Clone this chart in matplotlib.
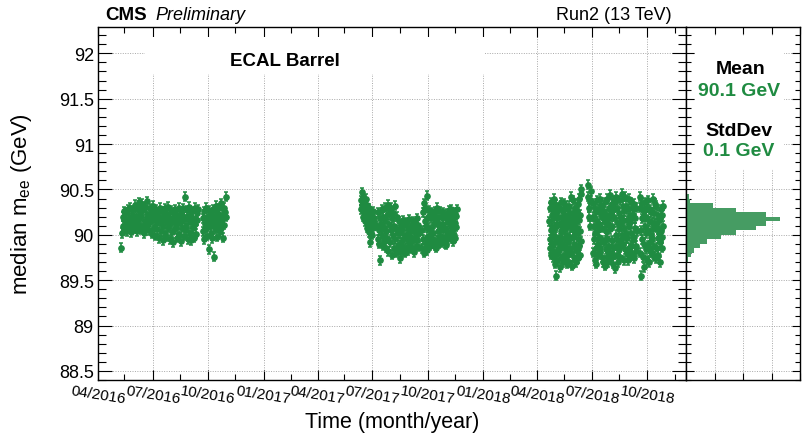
import numpy as np
import pandas as pd
import matplotlib
matplotlib.use('Agg')
import matplotlib.pyplot as plt
import matplotlib.dates as mdates
from matplotlib.ticker import MultipleLocator, FuncFormatter
from matplotlib.patches import Rectangle

plt.rcParams['font.family'] = ['Liberation Sans', 'DejaVu Sans']
plt.rcParams['mathtext.default'] = 'regular'

GREEN = '#1f8b41'
HIST_GREEN = '#469c63'

# median m_ee per run, grouped in blocks of data taking (first run, last run)
dates_2016a = ('2016-05-10', '2016-09-14')
vals_2016a = [89.86, 90.02, 90.20, 90.10, 90.26, 90.06, 90.16, 90.24, 90.04, 90.14,
              90.28, 90.08, 90.19, 90.30, 90.11, 90.03, 90.22, 90.16, 90.27, 90.07,
              90.13, 90.33, 90.09, 90.21, 90.04, 90.29, 90.17, 90.36, 90.12, 90.25,
              90.06, 90.20, 90.34, 90.10, 90.27, 90.02, 90.15, 90.31, 90.08, 90.23,
              90.37, 90.12, 90.19, 90.05, 90.29, 90.14, 90.26, 90.01, 90.18, 90.32,
              90.09, 90.22, 89.99, 90.16, 90.28, 90.06, 90.13, 90.24, 89.96, 90.19,
              90.30, 90.04, 90.15, 90.26, 89.94, 90.11, 90.21, 90.02, 90.29, 90.16,
              89.98, 90.23, 90.08, 90.31, 90.12, 89.95, 90.19, 90.27, 90.03, 90.14,
              90.25, 89.92, 90.17, 90.06, 90.28, 90.10, 89.97, 90.22, 90.13, 90.30,
              90.01, 90.18, 89.93, 90.24, 90.08, 90.15, 90.29, 89.99, 90.20, 90.42,
              90.11, 90.05, 90.27, 89.95, 90.17, 90.31, 90.02, 90.22, 89.94, 90.14,
              90.26, 90.07, 90.19, 89.97, 90.30, 90.12, 90.01, 90.24, 90.16, 90.28]
dates_2016b = ('2016-09-22', '2016-10-31')
vals_2016b = [90.18, 90.04, 90.26, 89.95, 90.12, 90.30, 90.08, 90.20, 89.99, 90.15,
              90.27, 89.84, 90.10, 90.23, 90.02, 90.17, 89.96, 90.28, 90.12, 89.76,
              90.20, 90.06, 90.32, 90.14, 89.98, 90.24, 90.09, 90.19, 90.29, 90.03,
              90.16, 90.35, 90.07, 90.22, 89.97, 90.18, 90.30, 90.11, 90.25, 90.42,
              90.20]

dates_2017a = ('2017-06-12', '2017-07-04')
vals_2017a = [90.38, 90.28, 90.47, 90.33, 90.20, 90.42, 90.25, 90.36, 90.15, 90.30,
              90.40, 90.18, 90.27, 90.08, 90.33, 90.22, 90.12, 90.29, 90.03, 90.19,
              89.92, 90.24, 90.10, 90.16, 90.00, 90.21, 90.07, 90.26, 90.13, 90.18]
dates_2017b = ('2017-07-09', '2017-09-17')
vals_2017b = [90.10, 89.95, 90.25, 90.05, 89.90, 90.18, 89.72, 90.12, 90.28, 90.00,
              89.88, 90.20, 90.08, 89.93, 90.15, 90.30, 89.86, 90.04, 90.22, 89.96,
              90.33, 89.82, 90.12, 90.26, 89.92, 90.05, 90.30, 89.78, 90.18, 90.00,
              90.24, 89.86, 90.10, 90.32, 89.95, 90.06, 89.80, 90.20, 90.02, 89.89,
              90.15, 89.84, 90.02, 89.74, 90.10, 89.92, 89.82, 90.05, 90.16, 89.88,
              89.96, 90.12, 89.80, 90.00, 90.14, 89.86, 89.95, 90.08, 89.83, 90.02,
              90.17, 89.90, 89.98, 90.10, 89.85, 90.06, 89.93, 90.15, 89.81, 90.04,
              89.97, 90.12, 89.88, 90.08, 90.18, 89.94, 90.01, 90.11, 89.87, 90.05]
dates_2017c = ('2017-09-21', '2017-11-18')
vals_2017c = [90.05, 89.85, 90.25, 89.95, 90.35, 89.80, 90.15, 90.30, 89.90, 90.10,
              90.43, 89.98, 89.83, 90.20, 90.08, 89.92, 90.27, 90.00, 89.88, 90.18,
              90.06, 89.90, 90.24, 90.02, 89.95, 90.22, 90.12, 89.88, 90.15, 90.26,
              89.86, 90.16, 90.30, 89.94, 90.04, 90.20, 89.90, 90.12, 89.98, 90.26,
              89.94, 90.05, 90.20, 89.92, 90.12, 90.25, 89.98, 90.08, 90.22, 89.91,
              90.07, 89.89, 90.18, 90.01, 90.23, 89.95, 90.14, 90.27, 90.03, 90.20,
              90.15, 90.03, 90.28, 89.96, 90.10, 90.19, 89.93, 90.06, 90.24, 90.00,
              90.13, 89.97, 90.21, 90.09, 90.28]

dates_2018a = ('2018-04-21', '2018-06-13')
vals_2018a = [90.15, 89.85, 90.30, 89.95, 90.05, 90.36, 89.78, 90.22, 89.90, 90.10,
              89.75, 90.28, 90.00, 89.82, 90.18, 90.40, 89.92, 89.68, 90.08, 90.25,
              89.55, 89.98, 90.33, 89.80, 90.12, 89.72, 90.20, 89.94, 90.30, 89.86,
              89.84, 90.28, 89.64, 90.12, 89.96, 90.36, 89.76, 90.04, 90.20, 89.90,
              90.04, 89.70, 90.26, 90.14, 89.88, 90.35, 89.78, 90.06, 89.96, 90.22,
              89.74, 90.10, 90.32, 89.84, 90.00, 89.68, 90.18, 89.92, 90.28, 89.80,
              90.32, 89.70, 90.14, 89.86, 90.24, 89.98, 90.42, 89.80, 90.08, 90.16,
              90.12, 89.66, 90.24, 89.98, 90.38, 89.76, 90.06, 89.90, 90.20, 89.72,
              90.30, 89.86, 90.02, 90.15, 89.70, 90.26, 89.82, 90.08, 89.95, 90.34,
              89.74, 90.16, 89.88, 90.40, 90.04, 89.78, 90.22, 89.93, 90.45, 90.50]
dates_2018b = ('2018-06-24', '2018-06-29')
vals_2018b = [90.55, 90.42, 90.30, 90.20, 90.10, 90.38, 90.48]
dates_2018c = ('2018-07-02', '2018-09-13')
vals_2018c = [90.20, 89.80, 90.35, 89.95, 90.10, 89.72, 90.30, 90.02, 89.85, 90.25,
              89.68, 90.15, 90.38, 89.90, 90.05, 89.78, 90.28, 89.98, 90.12, 89.86,
              90.40, 89.82, 90.22, 90.33, 89.75, 90.08, 89.94, 90.26, 89.70, 90.18,
              89.92, 90.26, 89.66, 90.14, 90.36, 89.84, 90.04, 90.22, 89.76, 90.40,
              89.96, 90.12, 89.70, 90.30, 89.88, 90.18, 90.44, 89.80, 90.06, 90.24,
              89.74, 90.34, 89.94, 90.10, 89.68, 90.28, 89.86, 90.20, 90.38, 89.78,
              89.63, 90.36, 89.88, 90.00, 90.42, 89.78, 90.14, 90.30, 89.94, 89.70,
              90.24, 90.06, 89.84, 90.38, 90.12, 89.76, 90.20, 89.92, 90.45, 89.90,
              90.00, 90.16, 89.90, 90.32, 89.72, 90.08, 90.26, 89.84, 90.42, 89.96,
              90.02, 90.32, 89.80, 90.16, 89.96, 90.28, 89.72, 90.10, 90.40, 89.86,
              90.14, 89.76, 90.22, 89.88, 90.36, 90.02, 89.80, 90.18, 89.94, 90.30,
              90.22, 89.98, 90.34, 89.74, 90.08, 90.18, 89.88, 90.30, 89.82, 90.04]
dates_2018d = ('2018-09-18', '2018-10-27')
vals_2018d = [90.30, 89.80, 90.42, 90.05, 89.55, 90.18, 89.95, 90.35, 89.75, 90.20,
              89.90, 90.26, 89.64, 90.10, 90.36, 89.84, 90.02, 90.20, 89.72, 90.30,
              89.88, 90.05, 90.38, 89.70, 90.15, 89.92, 90.28, 89.82, 90.00, 90.25,
              89.96, 90.14, 89.80, 90.40, 90.06, 89.88, 90.24, 89.76, 90.12, 90.34,
              89.74, 90.12, 90.32, 89.86, 90.08, 89.96, 90.22, 89.78, 90.16, 90.02,
              89.92, 90.18, 89.70, 90.28, 90.04, 89.86, 90.22, 89.98, 90.32, 90.10]

blocks = [(dates_2016a, vals_2016a), (dates_2016b, vals_2016b),
          (dates_2017a, vals_2017a), (dates_2017b, vals_2017b), (dates_2017c, vals_2017c),
          (dates_2018a, vals_2018a), (dates_2018b, vals_2018b), (dates_2018c, vals_2018c),
          (dates_2018d, vals_2018d)]
err = 0.05

# projection histogram on the right
hist_edges = np.round(89.70 + 0.05 * np.arange(16), 2)
hist_counts = [8, 18, 29, 50, 74, 123, 175, 246, 281, 331, 281, 175, 94, 14, 12]

fig = plt.figure(figsize=(8.08, 4.35), dpi=100)
L, B, W, H = 98 / 808, (435 - 381) / 435, 588 / 808, 353 / 435
ax = fig.add_axes([L, B, W, H])
axh = fig.add_axes([L + W, B, 114 / 808, H], sharey=ax)

for (d0, d1), vals in blocks:
    t = pd.date_range(d0, d1, periods=len(vals))
    ax.errorbar(t, vals, yerr=err, fmt='o', color=GREEN, ms=3.8, elinewidth=1.2,
                capsize=1.6, capthick=1.1, zorder=2)

ax.set_xlim(pd.Timestamp('2016-04-01'), pd.Timestamp('2018-12-04'))
ax.set_ylim(88.4, 92.29)
ax.xaxis.set_major_locator(mdates.MonthLocator(bymonth=(1, 4, 7, 10)))
ax.xaxis.set_minor_locator(mdates.MonthLocator(bymonth=(2, 5, 8, 11), bymonthday=15))
ax.xaxis.set_major_formatter(mdates.DateFormatter('%m/%Y'))
ax.yaxis.set_major_locator(MultipleLocator(0.5))
ax.yaxis.set_minor_locator(MultipleLocator(0.1))
ax.yaxis.set_major_formatter(FuncFormatter(lambda v, p: '{:g}'.format(v)))

ax.set_axisbelow(True)
ax.grid(True, which='major', color='#a8a8a8', linestyle=(0, (1, 1.5)), linewidth=0.7)
ax.tick_params(which='both', direction='in', top=True, right=True, width=0.8)
ax.tick_params(axis='y', which='major', length=10, labelsize=13, pad=3)
ax.tick_params(axis='y', which='minor', length=6)
ax.tick_params(axis='x', which='major', length=7, labelsize=11, pad=2)
ax.tick_params(axis='x', which='minor', length=4)
for lab in ax.get_xticklabels():
    lab.set_rotation(-9)
    lab.set_ha('center')

ax.set_xlabel('Time (month/year)', fontsize=15.5)
ax.xaxis.set_label_coords(0.5, -0.088)
ax.set_ylabel('median m$_{ee}$ (GeV)', fontsize=16)
ax.yaxis.set_label_coords(-0.108, 0.5)

# white box behind the "ECAL Barrel" label
ax.add_patch(Rectangle((0.08, 0.867), 0.578, 0.105, transform=ax.transAxes,
                       facecolor='white', edgecolor='none', zorder=0.8))

axh.stairs(hist_counts, hist_edges, orientation='horizontal', fill=True,
           color=HIST_GREEN, zorder=2)
axh.set_xlim(0, 400)
axh.xaxis.set_major_locator(MultipleLocator(100))
axh.set_axisbelow(True)
axh.grid(True, which='major', color='#a8a8a8', linestyle=(0, (1, 1.5)), linewidth=0.7)
axh.tick_params(which='both', direction='in', top=True, right=True, left=True,
                labelleft=False, labelbottom=False, width=0.8)
axh.tick_params(axis='y', which='major', length=6)
axh.tick_params(axis='y', which='minor', length=3.5)
axh.tick_params(axis='x', which='major', length=5)
axh.add_patch(Rectangle((0.08, 0.598), 0.78, 0.377, transform=axh.transAxes,
                        facecolor='white', edgecolor='none', zorder=0.8))

for a in (ax, axh):
    for s in a.spines.values():
        s.set_linewidth(1.0)


def px(x, y):
    return x / 808, 1 - y / 435


fig.text(*px(105, 15), 'CMS', fontsize=13.5, fontweight='bold', va='center')
fig.text(*px(155, 15), 'Preliminary', fontsize=13, style='italic', va='center')
fig.text(*px(672, 15), 'Run2 (13 TeV)', fontsize=13, ha='right', va='center')
fig.text(*px(230, 62), 'ECAL Barrel', fontsize=13.5, fontweight='bold', va='center')
fig.text(*px(741, 69), 'Mean', fontsize=14, fontweight='bold', ha='center', va='center')
fig.text(*px(739, 92), '90.1 GeV', fontsize=14, fontweight='bold', color=GREEN,
         ha='center', va='center')
fig.text(*px(739, 131), 'StdDev', fontsize=14, fontweight='bold', ha='center', va='center')
fig.text(*px(739, 152), '0.1 GeV', fontsize=14, fontweight='bold', color=GREEN,
         ha='center', va='center')

fig.savefig('out.png', dpi=100)
